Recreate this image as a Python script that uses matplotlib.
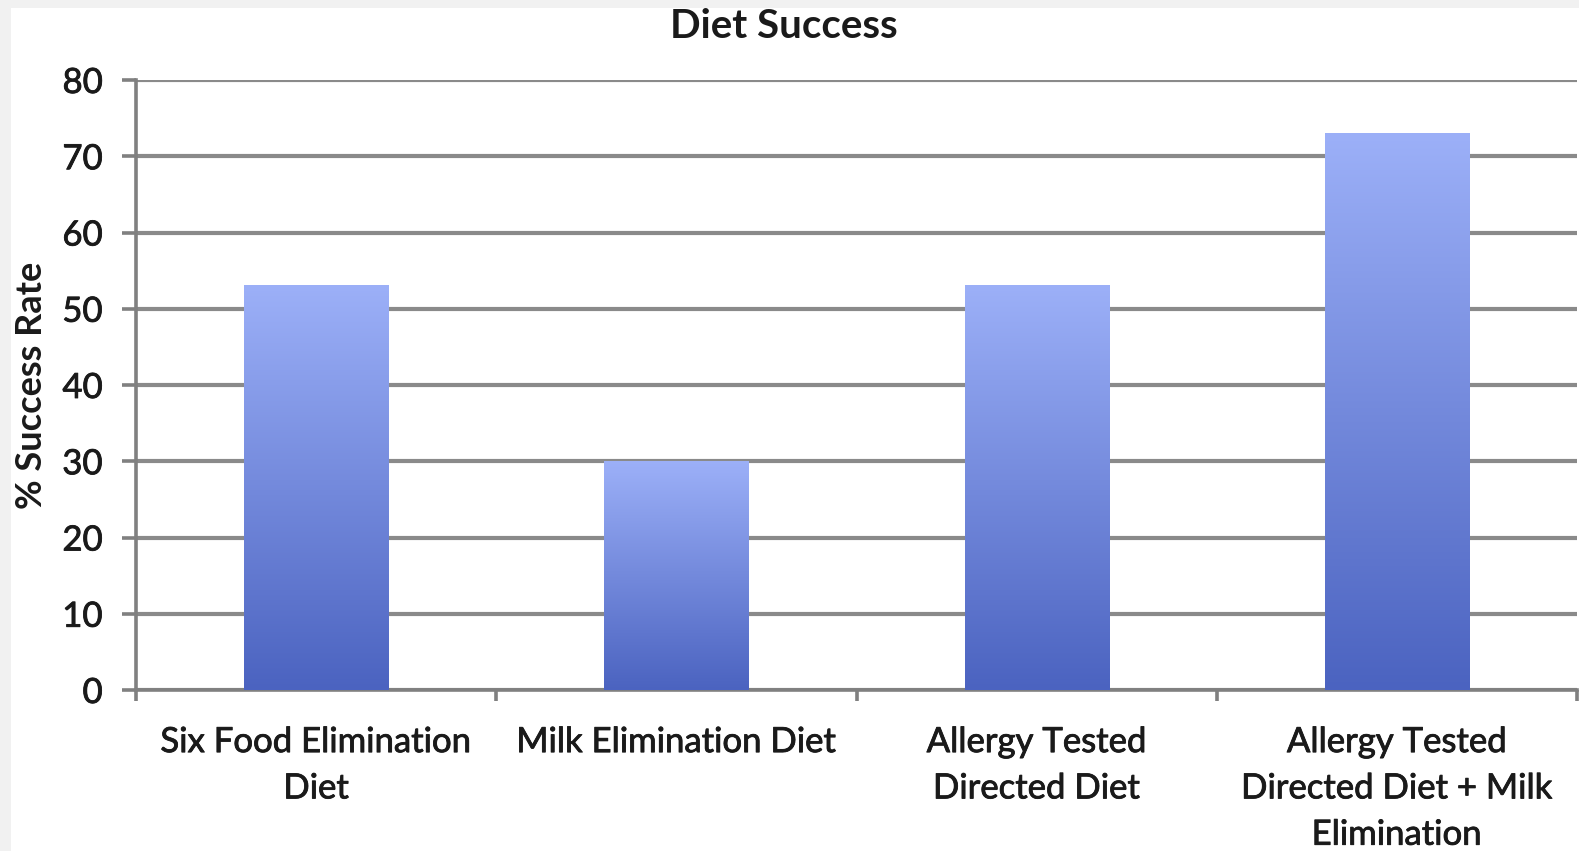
import matplotlib
matplotlib.use("Agg")
import matplotlib.pyplot as plt
import matplotlib.patheffects as pe
import numpy as np
from matplotlib.patches import Rectangle
from matplotlib.colors import LinearSegmentedColormap

categories = [
    "Six Food Elimination\nDiet",
    "Milk Elimination Diet",
    "Allergy Tested\nDirected Diet",
    "Allergy Tested\nDirected Diet + Milk\nElimination",
]
success_rate = [53, 30, 53, 73]
y_ticks = [0, 10, 20, 30, 40, 50, 60, 70, 80]

plt.rcParams["font.family"] = ["Lato", "DejaVu Sans"]
thick = [pe.withStroke(linewidth=0.6, foreground="#1a1a1a")]

fig = plt.figure(figsize=(15.79, 8.51), dpi=100)
fig.patch.set_facecolor("#f1f1f1")
fig.add_artist(Rectangle((11 / 1579, 0), 1, 1 - 8 / 851, transform=fig.transFigure,
                         facecolor="white", edgecolor="none", zorder=0))

ax = fig.add_axes([136 / 1579, 1 - 690 / 851, (1577 - 136) / 1579, (690 - 80) / 851])
ax.set_facecolor("none")

x = np.arange(len(categories))
bars = ax.bar(x, success_rate, width=0.4, color="none", edgecolor="none", zorder=3)

# vertical gradient fill for each bar
grad_cmap = LinearSegmentedColormap.from_list("bar_grad", ["#4b63c0", "#9cb0f8"])
grad = np.linspace(0, 1, 256).reshape(-1, 1)
for b in bars:
    x0, w, h = b.get_x(), b.get_width(), b.get_height()
    ax.imshow(grad, cmap=grad_cmap, origin="lower", aspect="auto",
              extent=(x0, x0 + w, 0, h), zorder=3, interpolation="bicubic")

ax.set_xlim(-0.5, len(categories) - 0.5)
ax.set_ylim(0, 80)
ax.set_yticks(y_ticks)
ax.set_yticklabels([str(v) for v in y_ticks], fontsize=25, color="#1a1a1a")
ax.set_xticks(x)
ax.set_xticklabels(categories, fontsize=25, color="#1a1a1a", linespacing=1.55)
ax.set_xticks(np.arange(-0.5, len(categories)), minor=True)
for lbl in ax.get_xticklabels() + ax.get_yticklabels():
    lbl.set_path_effects(thick)

ax.yaxis.grid(True, color="#8a8a8a", linewidth=3.0, zorder=1)
ax.set_axisbelow(True)

for side in ["top", "right"]:
    ax.spines[side].set_visible(False)
for side in ["left", "bottom"]:
    ax.spines[side].set_color("#808080")
    ax.spines[side].set_linewidth(2.6)

ax.tick_params(axis="y", direction="out", length=10, width=2.6, color="#808080", pad=14)
ax.tick_params(axis="x", which="major", length=0, pad=26)
ax.tick_params(axis="x", which="minor", direction="out", length=8, width=2.6, color="#808080")

ax.set_ylabel("% Success Rate", fontsize=26, fontweight="bold", color="#1a1a1a", labelpad=10)
fig.text(784 / 1579, 1 - 27 / 851, "Diet Success", ha="center", va="center",
         fontsize=29, fontweight="bold", color="#1a1a1a")

fig.savefig("out.png", dpi=100)
